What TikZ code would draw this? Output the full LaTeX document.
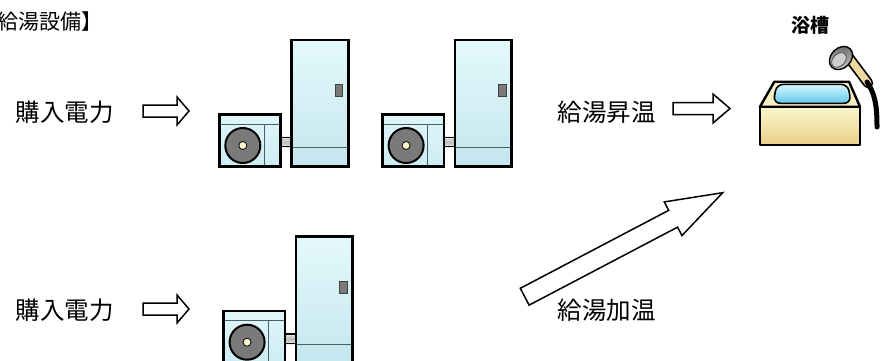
\documentclass[tikz,border=0pt]{standalone}
\usepackage{fontspec}
\newfontfamily\jpfont{Noto Sans CJK JP}
\usetikzlibrary{calc}

\definecolor{tankTop}{RGB}{228,249,252}
\definecolor{tankBot}{RGB}{196,230,238}
\definecolor{hpTop}{RGB}{224,246,250}
\definecolor{hpBot}{RGB}{204,236,243}
\definecolor{innerLine}{RGB}{70,95,105}
\definecolor{fanGray}{RGB}{122,122,122}
\definecolor{hubYellow}{RGB}{252,248,205}
\definecolor{pipeLight}{RGB}{236,236,236}
\definecolor{pipeMid}{RGB}{185,185,185}
\definecolor{rimYellow}{RGB}{246,240,196}
\definecolor{tubTop}{RGB}{251,246,206}
\definecolor{tubBot}{RGB}{233,206,136}
\definecolor{waterTop}{RGB}{214,248,255}
\definecolor{waterBot}{RGB}{98,200,236}
\definecolor{handleTan}{RGB}{238,218,158}
\definecolor{headLight}{RGB}{205,205,205}
\definecolor{headDark}{RGB}{110,110,110}

\tikzset{
  % hollow block arrow drawn from a tail point to a tip point
  ba body/.initial=6pt,
  ba head/.initial=14pt,
  ba len/.initial=12pt,
  blockarrow/.style={draw=black, line width=1.5pt, fill=white, line join=miter,
    to path={
      ($(\tikztotarget)!\pgfkeysvalueof{/tikz/ba len}!(\tikztostart)$) coordinate (ba-base)
      ($(\tikztostart)!\pgfkeysvalueof{/tikz/ba body}!90:(\tikztotarget)$)
      -- ($(ba-base)!\pgfkeysvalueof{/tikz/ba body}!90:(\tikztotarget)$)
      -- ($(ba-base)!\pgfkeysvalueof{/tikz/ba head}!90:(\tikztotarget)$)
      -- (\tikztotarget)
      -- ($(ba-base)!\pgfkeysvalueof{/tikz/ba head}!-90:(\tikztotarget)$)
      -- ($(ba-base)!\pgfkeysvalueof{/tikz/ba body}!-90:(\tikztotarget)$)
      -- ($(\tikztostart)!\pgfkeysvalueof{/tikz/ba body}!-90:(\tikztotarget)$)
      -- cycle}},
  lbl/.style={font=\jpfont\fontsize{24.5pt}{28pt}\selectfont, inner sep=0pt, anchor=center},
  hpedge/.style={draw=black, line width=2.6pt, line join=miter},
  hpinner/.style={draw=innerLine, line width=0.9pt},
  tubline/.style={draw=black, line width=2.4pt, line join=round},
  % heat-pump water heater: outdoor unit, pipe and storage tank
  pics/heatpump/.style={code={
    \path[top color=pipeLight, bottom color=pipeLight, middle color=pipeMid]
      (-12,96.7) rectangle (1,107.3);
    \draw[line width=1.4pt] (-12,97.3) -- (1,97.3) (-12,106.7) -- (1,106.7);
    \path[top color=hpTop, bottom color=hpBot] (-72.4,74.3) rectangle (-11,126.7);
    \draw[hpinner] (-72.4,84) -- (-11,84) (-27.7,84) -- (-27.7,126.7);
    \draw[line width=2pt, fill=fanGray] (-48.9,105.5) circle[radius=17.5pt];
    \draw[line width=0.8pt, fill=hubYellow] (-48.9,105.5) circle[radius=4pt];
    \draw[hpedge] (-72.4,74.3) rectangle (-11,126.7);
    \path[top color=tankTop, bottom color=tankBot] (0,0) rectangle (56.6,126.7);
    \draw[hpinner] (0,107.3) -- (56.6,107.3);
    \draw[line width=0.8pt, draw=black!75, fill=fanGray] (43.3,44.3) rectangle (51,56.7);
    \draw[hpedge] (0,0) rectangle (56.6,126.7);
  }}
}

\begin{document}
\begin{tikzpicture}[x=1pt,y=-1pt]
\useasboundingbox (0,0) rectangle (883,360);
\clip (0,0) rectangle (883,360);

% heading (runs past the left edge)
\node[font=\jpfont\fontsize{21pt}{24pt}\selectfont, inner sep=0pt, anchor=west]
  (title) at (-24,21.5) {【給湯設備】};

% labels
\node[lbl] (buy1) at (65,112.5) {購入電力};
\node[lbl] (buy2) at (65,310.5) {購入電力};
\node[lbl] (rise) at (606.5,112.5) {給湯昇温};
\node[lbl] (warm) at (606.5,310.5) {給湯加温};
\node[font=\jpfont\bfseries\fontsize{19pt}{22pt}\selectfont, inner sep=0pt]
  (bathname) at (810,25) {浴槽};

% water heaters
\pic (hp1) at (291.7,40) {heatpump};
\pic (hp2) at (455,40) {heatpump};
\pic (hp3) at (296,236.7) {heatpump};

% arrows
\coordinate (a1s) at (143,111);
\coordinate (a1e) at (189,111);
\draw[blockarrow] (a1s) to (a1e);

\coordinate (a2s) at (143,309);
\coordinate (a2e) at (189,309);
\draw[blockarrow] (a2s) to (a2e);

\coordinate (a3s) at (673,108.5);
\coordinate (a3e) at (730,108.5);
\draw[blockarrow, ba len=17pt, ba head=14.5pt] (a3s) to (a3e);

\coordinate (a4s) at (524.7,296.7);
\coordinate (a4e) at (722.7,192.7);
\draw[blockarrow, ba body=9.5pt, ba head=19pt, ba len=56pt] (a4s) to (a4e);

% bathtub
\draw[tubline, fill=rimYellow] (774.3,81.7) -- (849,81.7) -- (860,106.7) -- (760,106.7) -- cycle;
\draw[line width=1.6pt, rounded corners=7pt, top color=waterTop, bottom color=waterBot]
  (776.5,84.3) -- (848,84.3) -- (851,103.3) -- (773.3,103.3) -- cycle;
\draw[tubline, top color=tubTop, bottom color=tubBot] (760,106.7) rectangle (860,145);

% shower
\draw[line width=10.5pt, line cap=round] (847,55) -- (868,83);
\draw[line width=7pt, line cap=round, handleTan] (847,55) -- (868,83);
\draw[line width=5pt, line cap=round] (867,82) .. controls (875,94) and (877,105) .. (877,127);
\draw[line width=1.4pt, rotate around={45:(841,58)}, top color=headDark, bottom color=headLight]
  (841,58) ellipse[x radius=13pt, y radius=10pt];
\draw[line width=0.8pt, draw=black!70, fill=headLight, rotate around={45:(839,60)}]
  (839,60) ellipse[x radius=8.5pt, y radius=6pt];
\end{tikzpicture}
\end{document}
